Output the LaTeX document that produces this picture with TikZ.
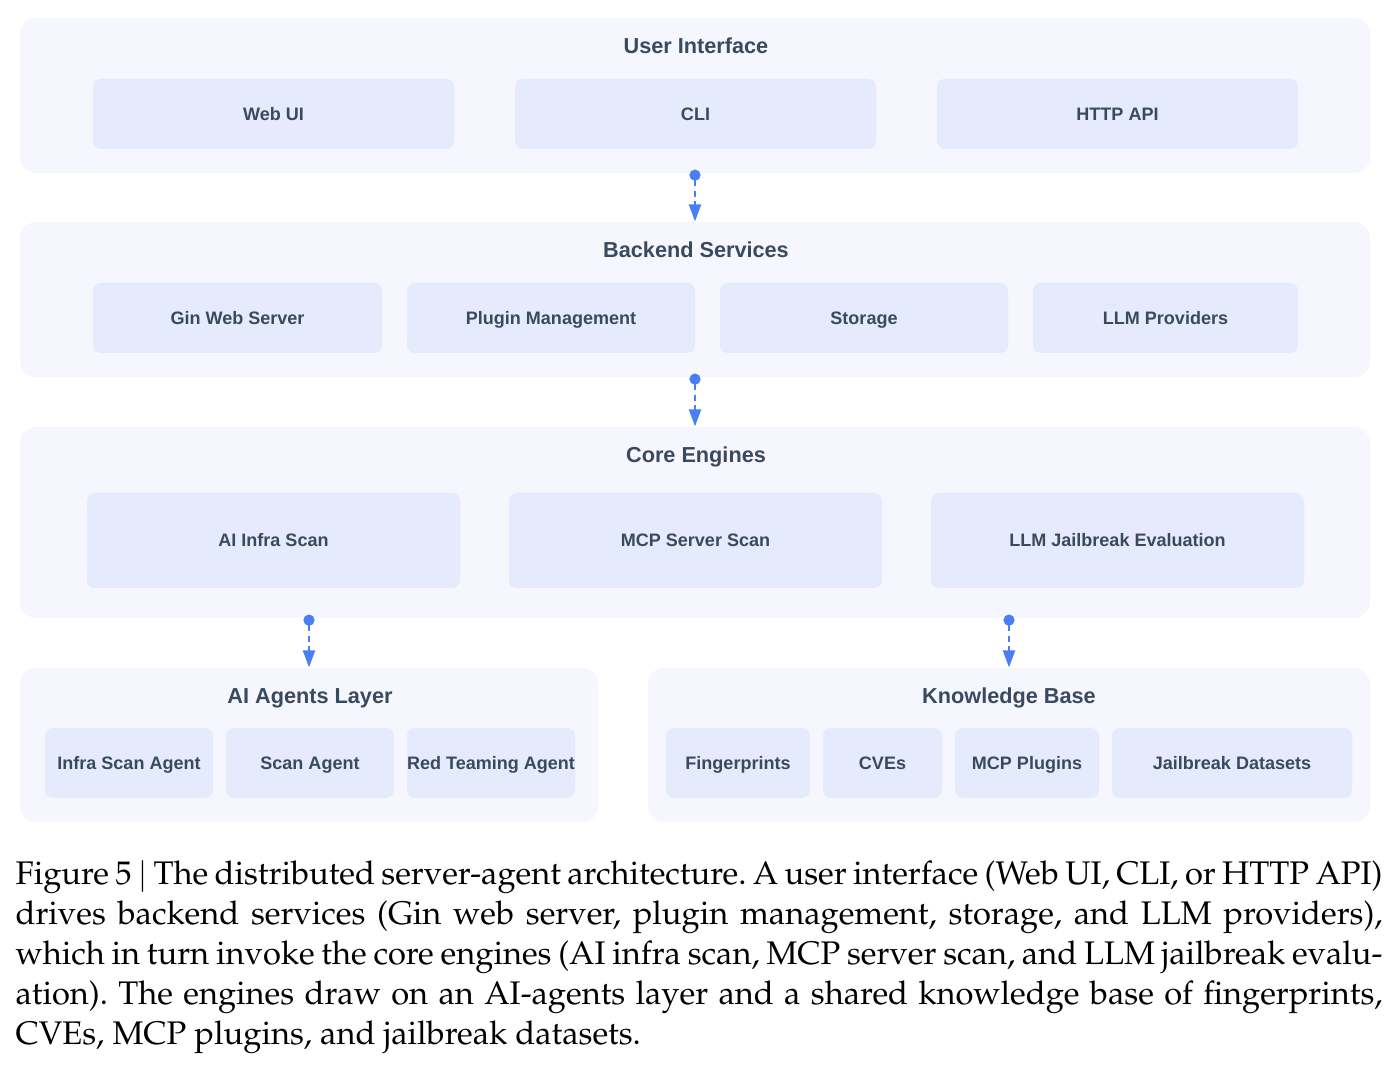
\documentclass[tikz,border=0pt]{standalone}
\usepackage[T1]{fontenc}
\usepackage{fontspec}
\newfontfamily\diagfont{Liberation Sans}
\usetikzlibrary{arrows.meta}

\definecolor{layerbg}{HTML}{F5F6FE}
\definecolor{compbg}{HTML}{E5EAFC}
\definecolor{inktext}{HTML}{3A4A5E}
\definecolor{flowblue}{HTML}{4A7EF5}

\newlength\pxu
\setlength\pxu{0.012cm}

\tikzset{
  layer/.style={rounded corners=16\pxu, fill=layerbg, inner sep=0pt},
  layertitle/.style={text=inktext, inner sep=0pt, text height=5.3pt, text depth=0pt, font=\diagfont\bfseries\fontsize{7.4}{8}\selectfont},
  comp/.style={rounded corners=8\pxu, fill=compbg, inner sep=0pt, minimum height=70\pxu, text height=4.4pt, text depth=0pt, text=inktext, font=\diagfont\bfseries\fontsize{6.15}{7}\selectfont},
  flow/.style={flowblue, line width=0.7pt, dash pattern=on 2.2pt off 1.5pt, {Circle[length=3.8pt]}-{Triangle[length=5.8pt, width=4.1pt]}}
}

\begin{document}
\begin{tikzpicture}[x=\pxu, y=-\pxu]
    \useasboundingbox (0,0) rectangle (1398,1070);

    % layers
    \node[layer, minimum width=1350\pxu, minimum height=155\pxu] (ui) at (695,95.5) {};
    \node[layer, minimum width=1350\pxu, minimum height=155\pxu] (be) at (695,299.5) {};
    \node[layer, minimum width=1350\pxu, minimum height=191\pxu] (core) at (695,522.5) {};
    \node[layer, minimum width=578\pxu, minimum height=154\pxu] (ag) at (309,745) {};
    \node[layer, minimum width=722\pxu, minimum height=154\pxu] (kb) at (1009,745) {};

    \node[layertitle] (uiT) at (696,46) {User Interface};
    \node[layertitle] (beT) at (696,250) {Backend Services};
    \node[layertitle] (coreT) at (696,455) {Core Engines};
    \node[layertitle] (agT) at (310,696) {AI Agents Layer};
    \node[layertitle] (kbT) at (1009,696) {Knowledge Base};

    % user interface
    \node[comp, minimum width=361\pxu] (web) at (273.5,114) {Web UI};
    \node[comp, minimum width=361\pxu] (cli) at (695.5,114) {CLI};
    \node[comp, minimum width=361\pxu] (http) at (1117.5,114) {HTTP API};

    % backend
    \node[comp, minimum width=289\pxu] (gin) at (237.5,318) {Gin Web Server};
    \node[comp, minimum width=288\pxu] (plug) at (551,318) {Plugin Management};
    \node[comp, minimum width=288\pxu] (store) at (864,318) {Storage};
    \node[comp, minimum width=265\pxu] (llm) at (1165.5,318) {LLM Providers};

    % engines
    \node[comp, minimum width=373\pxu, minimum height=95\pxu] (infra) at (273.5,540.5) {AI Infra Scan};
    \node[comp, minimum width=373\pxu, minimum height=95\pxu] (mcps) at (695.5,540.5) {MCP Server Scan};
    \node[comp, minimum width=373\pxu, minimum height=95\pxu] (jail) at (1117.5,540.5) {LLM Jailbreak Evaluation};

    % agents
    \node[comp, minimum width=168\pxu] (ia) at (129,763) {Infra Scan Agent};
    \node[comp, minimum width=168\pxu] (sa) at (310,763) {Scan Agent};
    \node[comp, minimum width=168\pxu] (rt) at (491,763) {Red Teaming Agent};

    % knowledge base
    \node[comp, minimum width=144\pxu] (fp) at (738,763) {Fingerprints};
    \node[comp, minimum width=119\pxu] (cve) at (882.5,763) {CVEs};
    \node[comp, minimum width=144\pxu] (mcpp) at (1027,763) {MCP Plugins};
    \node[comp, minimum width=240\pxu] (jd) at (1232,763) {Jailbreak Datasets};

    \draw[flow] ([yshift=4\pxu]ui.south) -- (be.north);
    \draw[flow] ([yshift=4\pxu]be.south) -- (core.north);
    \draw[flow] ([yshift=4\pxu]ag.north |- core.south) -- (ag.north);
    \draw[flow] ([yshift=4\pxu]kb.north |- core.south) -- (kb.north);

    % caption
    \node[anchor=north west, inner sep=0pt, text width=1367\pxu, align=justify,
          font=\fontencoding{T1}\fontfamily{ppl}\fontsize{11.15}{13.66}\selectfont] (cap) at (15,860)
    {\parindent=0pt\frenchspacing Figure 5 $\vert$ The distributed server-agent architecture. A user interface (Web UI, CLI, or HTTP API)\linebreak
     drives backend services (Gin web server, plugin management, storage, and LLM providers),\linebreak
     which in turn invoke the core engines (AI infra scan, MCP server scan, and LLM jailbreak evalu-\linebreak ation). The engines draw on an AI-agents layer and a shared knowledge base of fingerprints,\linebreak
     CVEs, MCP plugins, and jailbreak datasets.};
\end{tikzpicture}
\end{document}
